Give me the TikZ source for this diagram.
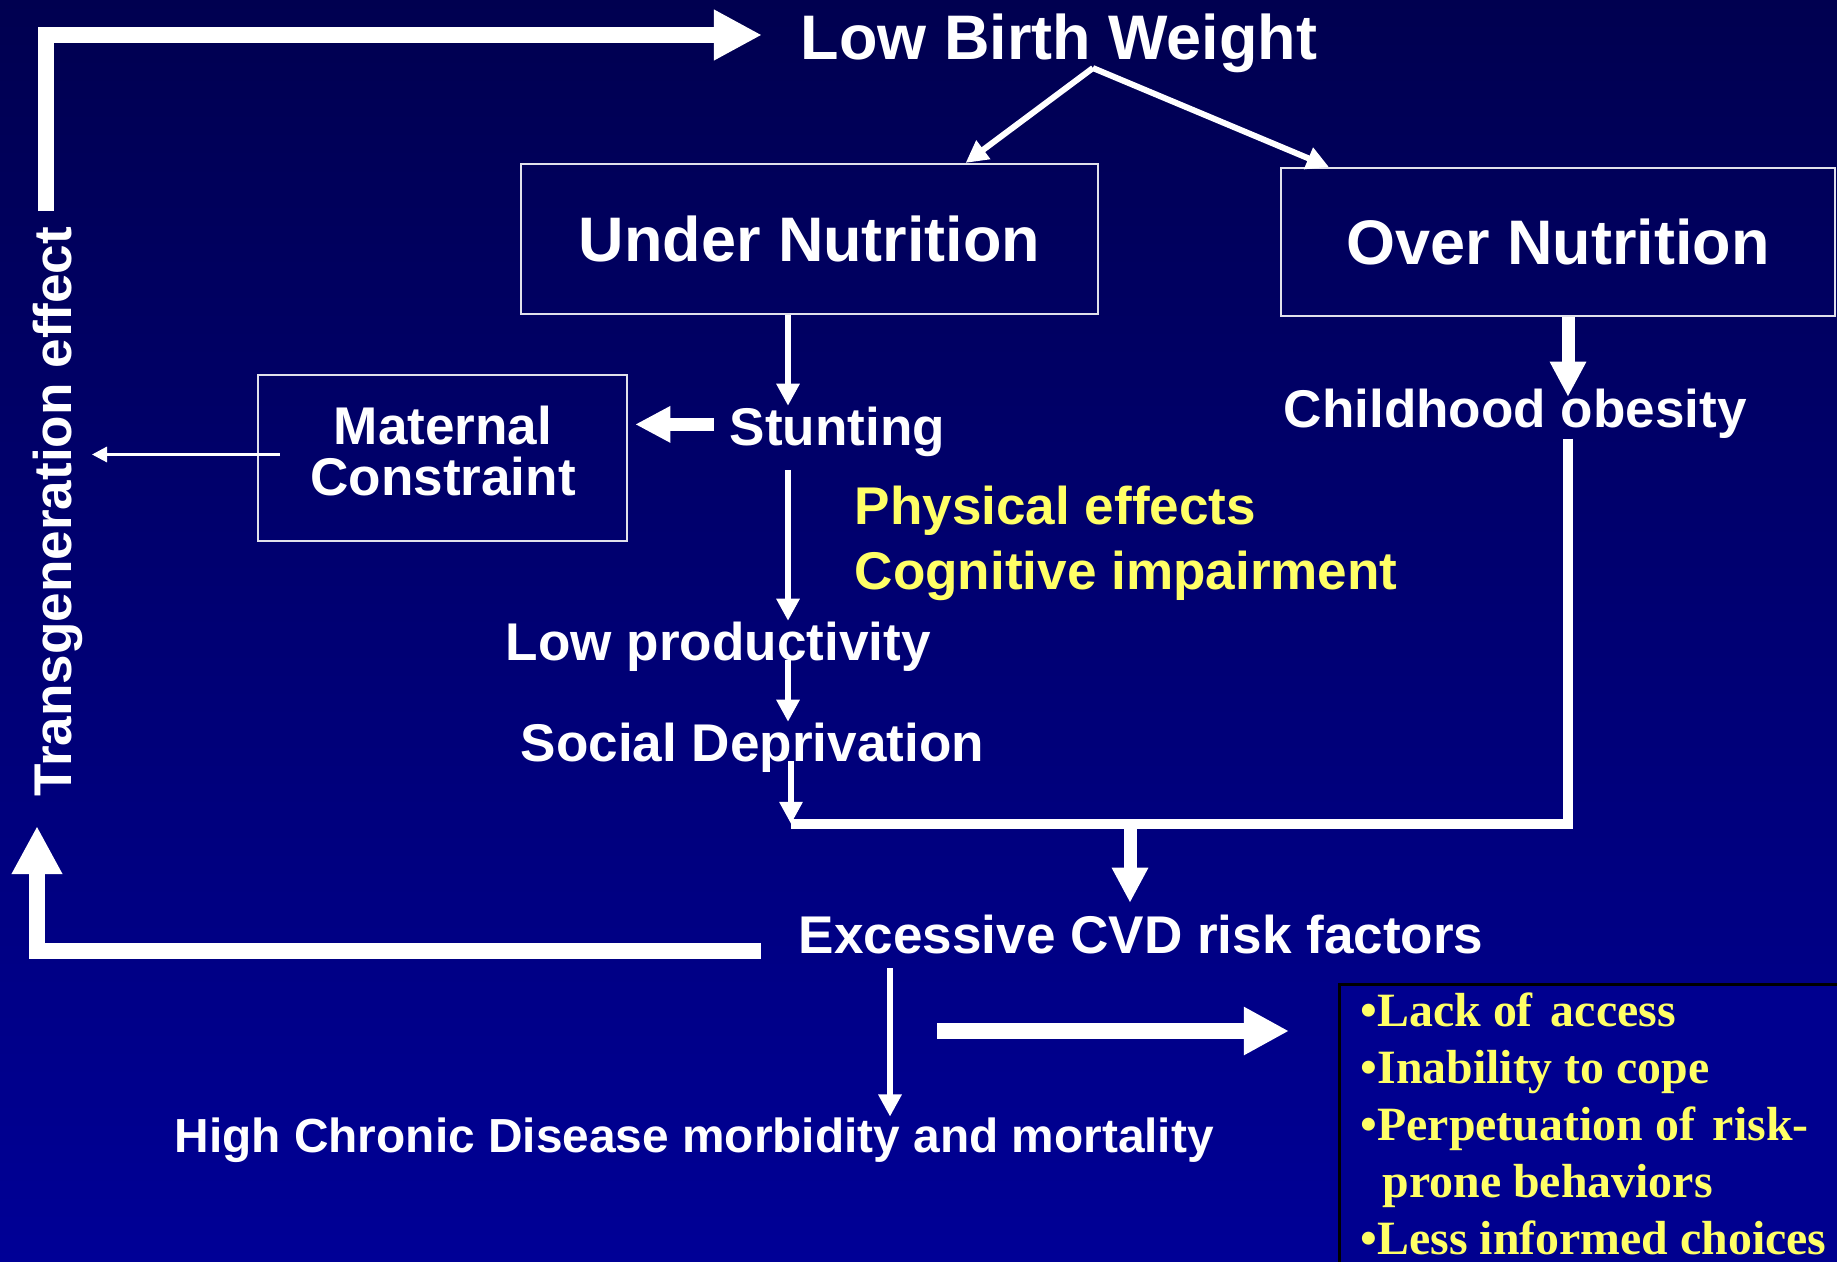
\documentclass[tikz,border=0pt]{standalone}
\usepackage{fontspec}
\setmainfont{Liberation Sans}
\newfontfamily\listserif{Liberation Serif}
\usetikzlibrary{arrows.meta}
\definecolor{bgtop}{RGB}{0,0,80}
\definecolor{bgbot}{RGB}{0,0,150}
\definecolor{boxfill}{RGB}{0,0,143}
\definecolor{hilite}{RGB}{255,255,102}
\definecolor{boxline}{RGB}{225,225,235}

\begin{document}
\begin{tikzpicture}[x=0.01cm, y=-0.01cm,
    every node/.style={inner sep=0pt, text=white},
    titletext/.style={font=\bfseries\fontsize{17.9}{20}\selectfont},
    lab/.style={font=\bfseries\fontsize{15.1}{14.5}\selectfont},
    effect/.style={lab, text=hilite},
    endtext/.style={font=\bfseries\fontsize{13.6}{16}\selectfont},
    listtext/.style={font=\listserif\bfseries\fontsize{13.6}{16.2}\selectfont, text=hilite},
    nutbox/.style={draw=boxline, line width=0.6pt},
    thinarr/.style={draw=white, line width=1.7pt, -{Triangle[length=6.3pt,width=6.3pt]}},
    hairarr/.style={draw=white, line width=0.85pt, -{Triangle[length=4.3pt,width=4.3pt]}},
    midarr/.style={draw=white, line width=3.7pt, -{Triangle[length=10pt,width=9.7pt]}},
    bigarr/.style={draw=white, line width=4.55pt, line join=miter, -{Triangle[length=13.7pt,width=13.5pt]}},
    outarr/.style={draw=white, line width=4.3pt, -{Triangle[length=12.8pt,width=12.8pt]}},
    bracket/.style={draw=white, line width=2.6pt, line join=miter}]
  \useasboundingbox (0,0) rectangle (1837,1261);
  \clip (0,0) rectangle (1837,1261);
  \fill[top color=bgtop, bottom color=bgbot] (0,0) rectangle (1837,1261);

  % texts and boxes
  \node[titletext, anchor=base west] (lbw) at (800,60) {Low Birth Weight};
  \node[nutbox, titletext, minimum width=5.77cm, minimum height=1.5cm] (under) at (809.5,239) {Under Nutrition};
  \node[nutbox, titletext, minimum width=5.54cm, minimum height=1.48cm] (over) at (1558,242) {Over Nutrition};
  \node[lab, anchor=base west] (stunt) at (729,445) {Stunting};
  \node[nutbox, minimum width=3.69cm, minimum height=1.66cm] (mat) at (442.5,458) {};
  \node[lab, align=center] (matlabel) at (443,451) {Maternal\\Constraint};
  \node[lab, anchor=base west] (obes) at (1283,427) {Childhood obesity};
  \node[effect, anchor=base west] (phys) at (854,524) {Physical effects};
  \node[effect, anchor=base west] (cogn) at (854,589) {Cognitive impairment};
  \node[lab, anchor=base west] (lowprod) at (505,660) {Low productivity};
  \node[lab, anchor=base west] (social) at (520,761) {Social Deprivation};
  \node[lab, anchor=base west] (cvd) at (798,953) {Excessive CVD risk factors};
  \node[endtext, anchor=base west] (chronic) at (174,1152) {High Chronic Disease morbidity and mortality};
  \node[lab, rotate=90, anchor=base west] (trans) at (71,797) {Transgeneration effect};
  \node[draw=black, line width=0.9pt, fill=boxfill, anchor=north west, minimum width=5.3cm, minimum height=3.1cm] (riskbox) at (1338,983) {};
  \node[listtext, anchor=north west, align=left] (risks) at (1360,992) {\textbullet Lack of\hspace{0.18cm}access\\\textbullet Inability to cope\\\textbullet Perpetuation of\hspace{0.18cm}risk-\\\hspace*{0.22cm}prone behaviors\\\textbullet Less informed choices};

  % guide points
  \coordinate (spine) at (788,0);
  \coordinate (drop) at (890,0);
  \coordinate (brkR) at (1568,824);
  \coordinate (brkL) at (791,824);
  \coordinate (merge) at (1130,824);
  \coordinate (looptop) at (46,35);
  \coordinate (loopbot) at (37,951);
  \coordinate (outtail) at (937,1031);

  % connectors
  \draw[thinarr] ([xshift=0.34cm, yshift=0.06cm]lbw.south) -- ([xshift=1.56cm]under.north);
  \draw[thinarr] ([xshift=0.34cm, yshift=0.06cm]lbw.south) -- ([xshift=-2.29cm]over.north);
  \draw[thinarr] (under.south -| spine) -- (stunt.north -| spine);
  \draw[thinarr, shorten <=0.13cm] (stunt.south -| spine) -- (lowprod.north -| spine);
  \draw[thinarr] (lowprod.base -| spine) -- (social.north -| spine);
  \draw[thinarr] (social.base -| brkL) -- (brkL);
  \draw[bracket] (obes.south -| brkR) -- (brkR) -- (brkL);
  \draw[midarr, shorten >=0.11cm] (merge) -- (merge |- cvd.north);
  \draw[midarr, shorten >=-0.09cm] (over.south -| brkR) -- (obes.north -| brkR);
  \draw[midarr, shorten <=0.15cm, shorten >=0.07cm] ([yshift=0.07cm]stunt.west) -- ([yshift=0.07cm]stunt.west -| mat.east);
  \draw[hairarr, shorten >=0.09cm] ([xshift=0.23cm, yshift=0.035cm]mat.west) -- ([yshift=0.035cm]mat.west -| trans.south);
  \draw[thinarr, shorten <=0.14cm] (cvd.south -| drop) -- (chronic.north -| drop);
  \draw[bigarr, shorten <=0.15cm, shorten >=0.38cm] (looptop |- trans.east) -- (looptop) -- (looptop -| lbw.west);
  \draw[bigarr, shorten <=0.37cm, shorten >=0.29cm] (loopbot -| cvd.west) -- (loopbot) -- (loopbot |- trans.west);
  \draw[outarr, shorten >=0.49cm] (outtail) -- (outtail -| riskbox.west);
\end{tikzpicture}
\end{document}
